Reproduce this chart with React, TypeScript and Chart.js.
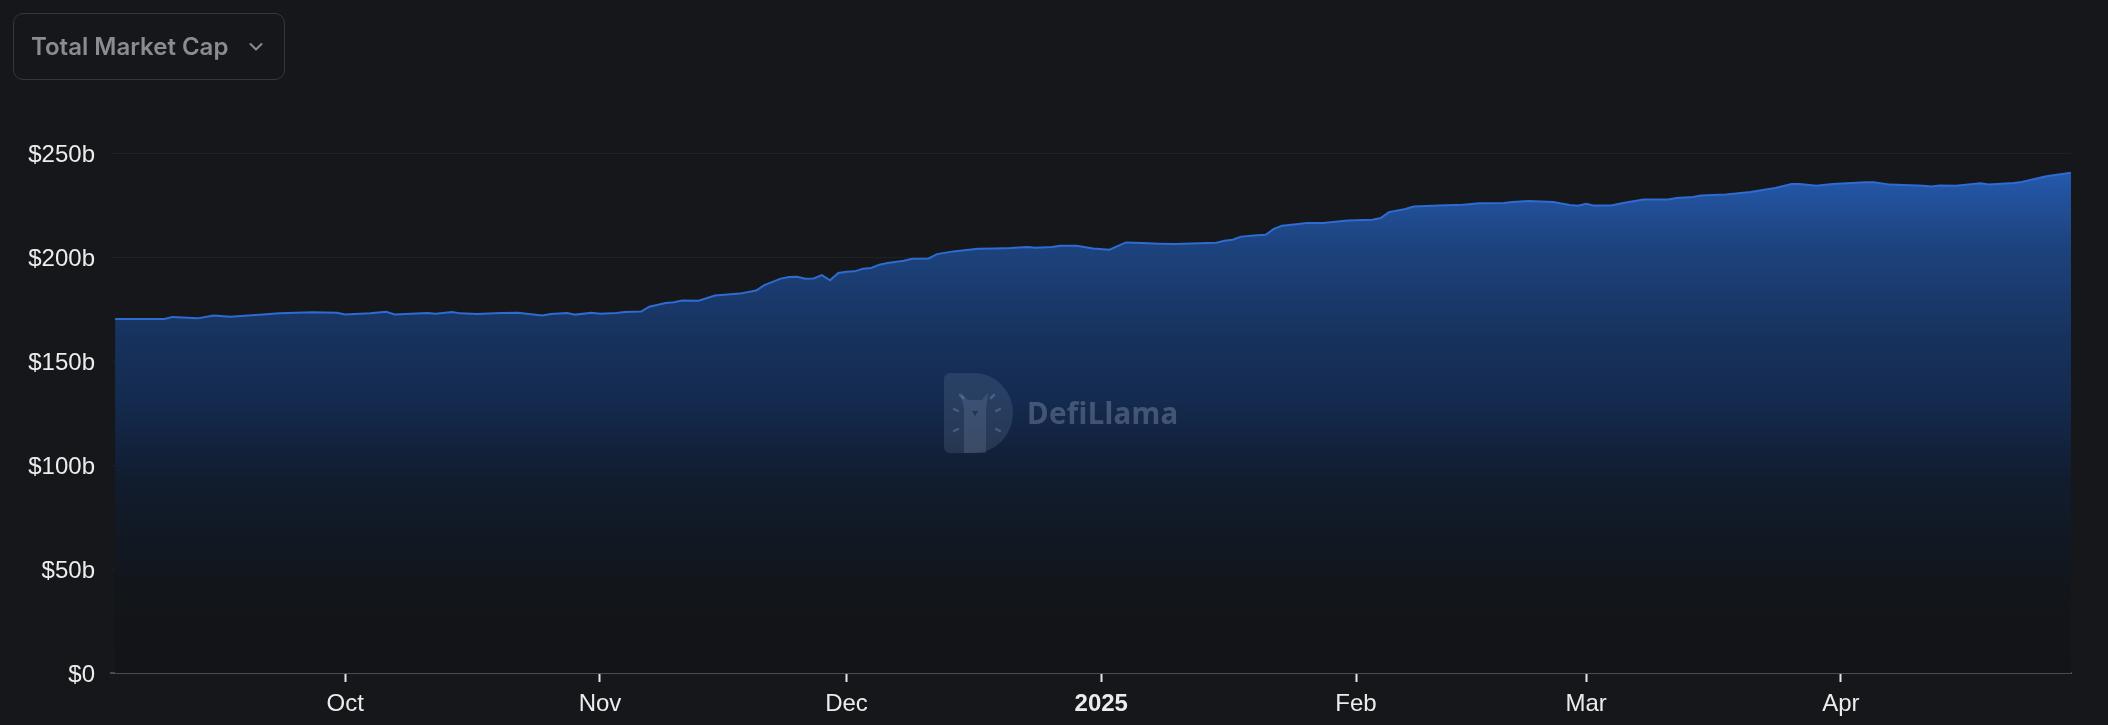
import React, { useEffect, useRef } from "react";
import { Chart, registerables } from "chart.js";

Chart.register(...registerables);

// ---- data ----
const dates: string[] = [
  "2024-09-03","2024-09-06","2024-09-09","2024-09-10","2024-09-13","2024-09-15","2024-09-17","2024-09-21",
  "2024-09-23","2024-09-27","2024-09-30","2024-10-01","2024-10-04","2024-10-06","2024-10-07","2024-10-11",
  "2024-10-12","2024-10-14","2024-10-15","2024-10-17","2024-10-20","2024-10-22","2024-10-25","2024-10-26",
  "2024-10-28","2024-10-29","2024-10-31","2024-11-01","2024-11-03","2024-11-04","2024-11-06","2024-11-07",
  "2024-11-09","2024-11-10","2024-11-11","2024-11-13","2024-11-15","2024-11-18","2024-11-20","2024-11-21",
  "2024-11-23","2024-11-24","2024-11-25","2024-11-26","2024-11-27","2024-11-28","2024-11-29","2024-11-30",
  "2024-12-01","2024-12-02","2024-12-03","2024-12-04","2024-12-05","2024-12-06","2024-12-08","2024-12-09",
  "2024-12-11","2024-12-12","2024-12-14","2024-12-17","2024-12-19","2024-12-21","2024-12-23","2024-12-24",
  "2024-12-26","2024-12-27","2024-12-29","2024-12-31","2025-01-02","2025-01-04","2025-01-06","2025-01-08",
  "2025-01-10","2025-01-12","2025-01-15","2025-01-16","2025-01-17","2025-01-18","2025-01-20","2025-01-21",
  "2025-01-22","2025-01-23","2025-01-25","2025-01-26","2025-01-28","2025-01-31","2025-02-03","2025-02-04",
  "2025-02-05","2025-02-07","2025-02-08","2025-02-11","2025-02-14","2025-02-16","2025-02-19","2025-02-20",
  "2025-02-22","2025-02-25","2025-02-27","2025-02-28","2025-03-01","2025-03-02","2025-03-04","2025-03-06",
  "2025-03-08","2025-03-11","2025-03-12","2025-03-14","2025-03-15","2025-03-18","2025-03-21","2025-03-24",
  "2025-03-26","2025-03-27","2025-03-29","2025-03-31","2025-04-04","2025-04-05","2025-04-07","2025-04-11",
  "2025-04-12","2025-04-13","2025-04-15","2025-04-18","2025-04-19","2025-04-22","2025-04-23","2025-04-26",
  "2025-04-29",
];

// Total market cap, billions USD
const totalMarketCap: number[] = [
  170.2,170.2,170.2,171.2,170.5,171.9,171.3,172.4,
  172.9,173.4,173.2,172.4,172.9,173.7,172.4,173.1,
  172.7,173.5,172.9,172.6,173.1,173.2,171.9,172.6,
  173.1,172.3,173.2,172.7,173.1,173.5,173.8,176.1,
  177.9,178.2,179.1,179.0,181.5,182.4,183.9,186.5,
  189.6,190.4,190.5,189.6,189.7,191.3,188.8,192.3,
  192.9,193.1,194.4,194.7,196.3,197.1,198.2,199.2,
  199.3,201.4,202.7,204.0,204.1,204.3,204.8,204.5,
  204.8,205.4,205.4,204.1,203.5,207.0,206.7,206.4,
  206.2,206.5,206.9,207.8,208.3,209.8,210.4,210.7,
  213.5,215.0,215.9,216.3,216.3,217.6,217.9,218.7,
  221.6,223.1,224.3,224.8,225.1,225.8,226.0,226.4,
  226.9,226.4,225.0,224.7,225.6,224.7,224.8,226.3,
  227.6,227.6,228.4,228.8,229.6,230.0,231.3,233.2,
  235.1,235.1,234.3,235.1,235.9,235.9,234.8,234.3,
  233.9,234.4,234.3,235.4,234.9,235.6,236.1,238.8,
  240.5,
];

const xTickDates: string[] = ["2024-10-01","2024-11-01","2024-12-01","2025-01-01","2025-02-01","2025-03-01","2025-04-01"];
const xTickLabels: string[] = ["Oct","Nov","Dec","2025","Feb","Mar","Apr"];
const yTickValues: number[] = [0, 50, 100, 150, 200, 250];
const yTickLabels: string[] = ["$0","$50b","$100b","$150b","$200b","$250b"];

const dropdownLabel = "Total Market Cap";
const watermarkText = "DefiLlama";

const toDay = (s: string) => {
  const [y, m, d] = s.split("-").map(Number);
  return Date.UTC(y, m - 1, d) / 86400000;
};

const W = 2108;
const H = 725;
const BG = "#16171a";
const FONT = "'Liberation Sans', Arial, sans-serif";

export default function App() {
  const canvasRef = useRef<HTMLCanvasElement | null>(null);

  useEffect(() => {
    document.body.style.margin = "0";
    document.body.style.background = BG;
    const canvas = canvasRef.current;
    if (!canvas) return;
    const points = dates.map((d, i) => ({ x: toDay(d), y: totalMarketCap[i] }));
    const tickDays = xTickDates.map(toDay);
    const xMin = toDay(dates[0]) - 0.5;
    const xMax = toDay(dates[dates.length - 1]);

    const chart = new Chart(canvas, {
      type: "line",
      data: {
        datasets: [
          {
            data: points,
            borderColor: "#2e6bd2",
            borderWidth: 2,
            pointRadius: 0,
            tension: 0,
            fill: "origin",
            backgroundColor: (ctx: any) => {
              const a = ctx.chart.chartArea;
              if (!a) return "rgba(0,0,0,0)";
              const g = ctx.chart.ctx.createLinearGradient(0, a.top, 0, a.bottom);
              g.addColorStop(0, "#2962b8");
              g.addColorStop(0.05, "#2457a8");
              g.addColorStop(0.17, "#1d4480");
              g.addColorStop(0.35, "#17325e");
              g.addColorStop(0.48, "#142a4e");
              g.addColorStop(0.63, "#111c2e");
              g.addColorStop(0.86, "#121519");
              g.addColorStop(1, "#131417");
              return g;
            },
          },
        ],
      },
      options: {
        animation: false,
        responsive: false,
        devicePixelRatio: 1,
        layout: { padding: { left: 0, right: 37, top: 153, bottom: 0 } },
        plugins: { legend: { display: false }, tooltip: { enabled: false } },
        scales: {
          x: {
            type: "linear",
            min: xMin,
            max: xMax,
            afterFit: (s: any) => { s.height = 52; },
            afterBuildTicks: (s: any) => { s.ticks = tickDays.map((v) => ({ value: v })); },
            grid: {
              display: true,
              drawOnChartArea: false,
              drawTicks: true,
              tickLength: 9,
              tickWidth: 2,
              tickColor: "#e6e6e6",
            },
            border: { display: true, color: "#4a4b50", width: 2 },
            ticks: {
              autoSkip: false,
              maxRotation: 0,
              padding: 8,
              color: "#ececec",
              callback: (_v: any, i: number) => xTickLabels[i],
              font: (ctx: any) => ({
                family: FONT,
                size: 24,
                weight: ctx.tick && ctx.tick.label === "2025" ? "bold" : "normal",
              }),
            },
          },
          y: {
            type: "linear",
            min: 0,
            max: 250,
            afterFit: (s: any) => { s.width = 111; },
            afterBuildTicks: (s: any) => { s.ticks = yTickValues.map((v) => ({ value: v })); },
            grid: { color: "rgba(255,255,255,0.045)", lineWidth: 1, drawTicks: false },
            border: { display: false },
            ticks: {
              padding: 16,
              labelOffset: 2,
              color: "#ececec",
              callback: (_v: any, i: number) => yTickLabels[i],
              font: { family: FONT, size: 24 },
            },
          },
        },
      },
    } as any);
    return () => chart.destroy();
  }, []);

  return (
    <div style={{ position: "fixed", left: 0, top: 0, width: W, height: H, background: BG, overflow: "hidden" }}>
      <canvas ref={canvasRef} width={W} height={H} style={{ position: "absolute", left: 0, top: 0, width: W, height: H }} />
      {/* watermark */}
      <div style={{ position: "absolute", left: 944, top: 373, width: 280, height: 80, pointerEvents: "none" }}>
        <svg width="70" height="80" viewBox="0 0 70 80" style={{ position: "absolute", left: 0, top: 0 }}>
          <path d="M6 0 H30 A39 40 0 0 1 30 80 H6 A6 6 0 0 1 0 74 V6 A6 6 0 0 1 6 0 Z" fill="rgba(150,168,200,0.16)" />
          <path d="M20 80 V36 L17 20 L24 27 H38 L44 20 L42 36 V80 Z" fill="rgba(150,168,200,0.18)" />
          <path d="M10 36 L14 38 M56 36 L52 38 M10 58 L14 56 M56 58 L52 56 M16 22 L19 25 M50 22 L47 25" stroke="rgba(150,168,200,0.3)" strokeWidth="2.5" strokeLinecap="round" />
          <path d="M28 38 L31 43 L34 38 Z" fill="rgba(20,35,60,0.6)" />
        </svg>
        <div style={{ position: "absolute", left: 83, top: 20, fontFamily: "'Noto Sans', sans-serif", fontWeight: 700, fontSize: 29.5, lineHeight: "40px", color: "rgba(150,166,195,0.36)", letterSpacing: 0.3, whiteSpace: "nowrap" }}>
          {watermarkText}
        </div>
      </div>
      {/* dropdown */}
      <div style={{ position: "absolute", left: 13, top: 13, width: 272, height: 67, boxSizing: "border-box", border: "1.5px solid #36373b", borderRadius: 10, display: "flex", alignItems: "center", paddingLeft: 17 }}>
        <span style={{ fontFamily: "Inter, 'Noto Sans', sans-serif", fontWeight: 600, fontSize: 24, color: "#8b8c90", letterSpacing: 0 }}>{dropdownLabel}</span>
        <svg width="14" height="10" viewBox="0 0 14 10" style={{ position: "absolute", left: 235, top: 28 }}>
          <polyline points="1.5,2 7,7.5 12.5,2" fill="none" stroke="#8b8c90" strokeWidth="2" strokeLinecap="round" strokeLinejoin="round" />
        </svg>
      </div>
    </div>
  );
}
